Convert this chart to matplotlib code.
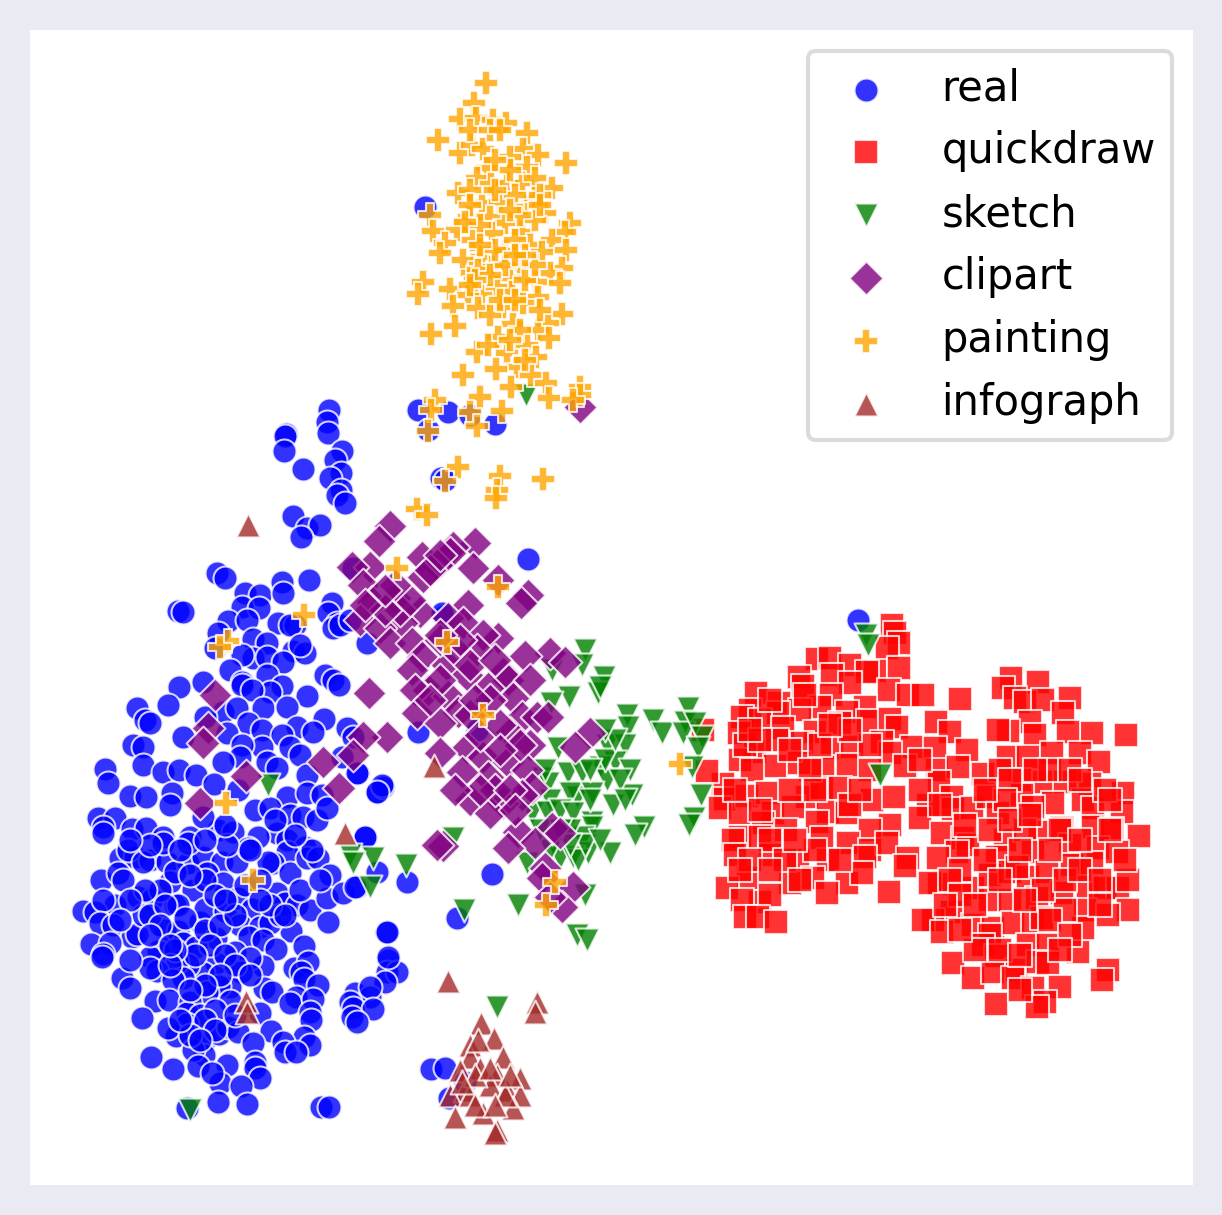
import numpy as np
import matplotlib
matplotlib.use("Agg")
import matplotlib.pyplot as plt

# embedding coordinates, one list per domain
real = [(217,573),(225,578),(245,593),(260,595),(282,582),(283,593),(309,580),(178,611),(183,612),(242,607),(259,608),(332,603),(328,613),(337,623),(333,628),(278,623),(295,625),(290,625),(228,621),(247,620),(218,633),(253,639),(267,643),(215,648),(293,651),(305,653),(300,645),(253,658),(242,655),(267,657),(283,662),(230,670),(267,675),(242,682),(242,685),(282,686),(270,692),(252,690),(325,675),(333,680),(339,685),(203,682),(179,687),(168,705),(307,696),(137,708),(145,720),(150,723),(223,712),(263,708),(287,707),(237,708),(205,717),(248,723),(262,730),(297,727),(324,719),(313,732),(347,728),(353,737),(183,737),(227,733),(282,735),(290,747),(262,747),(242,745),(133,745),(143,747),(300,755),(240,757),(223,762),(267,762),(277,768),(143,765),(163,772),(179,770),(196,775),(105,769),(108,783),(214,784),(307,775),(342,757),(358,773),(130,796),(146,797),(172,793),(170,805),(238,790),(287,797),(307,793),(322,795),(377,792),(383,787),(98,818),(115,818),(103,827),(103,833),(132,829),(146,828),(163,837),(190,837),(218,830),(233,832),(255,810),(270,808),(290,815),(303,817),(317,820),(327,808),(277,833),(258,837),(287,840),(305,847),(365,837),(203,817),
        (120,858),(135,857),(150,860),(167,862),(188,863),(203,857),(222,862),(237,862),(248,848),(163,843),(188,843),(227,845),(287,852),(273,863),(268,862),(290,873),(307,858),(318,858),(330,875),(101,880),(118,873),(123,880),(138,897),(152,899),(170,882),(193,890),(207,873),(223,883),(175,905),(178,905),(115,905),(83,911),(95,912),(103,900),(100,923),(113,925),(132,937),(137,934),(91,944),(110,943),(103,954),(102,957),(143,915),(165,930),(178,931),(200,922),(205,909),(225,911),(238,898),(252,909),(277,893),(285,903),(297,905),(310,910),(327,898),(343,893),(357,887),(328,922),(240,925),(260,927),(291,931),(270,923),(249,937),(263,940),(276,949),(304,946),(216,938),(183,943),(196,947),(158,951),(150,957),(235,952),(216,963),(203,973),(188,965),(177,962),(157,971),(150,968),(263,966),(250,958),(241,972),(183,978),(173,980),(122,978),(130,988),(294,968),(308,962),(301,972),(304,979),(318,985),(386,932),(388,960),(387,972),(397,972),(385,982),(264,988),(272,992),(230,987),(219,986),(207,992),(155,1001),(169,1000),(190,1002),(230,1001),(296,997),(290,1003),(313,999),(310,1012),(311,1020),(355,993),(370,997),(370,987),(350,1002),(353,1008),(373,1009),(352,1017),(357,1022),(142,1018),(187,1013),(200,1015),(260,1013),(187,1024),(176,1036),(168,1028),(205,1040),(219,1034),(228,1027),(238,1032),(271,1031),(253,1043),(304,1037),(283,1042),(310,1045),(285,1052),(296,1052),(204,1055),(193,1050),(151,1057),(173,1069),(198,1066),(227,1065),(255,1062),(255,1068),(260,1078),(220,1083),(212,1073),(241,1086),(218,1102),(247,1104),(187,1108),(321,1107),(329,1107),
        (128,850),(143,862),(175,872),(205,880),(215,895),(190,875),(160,890),(145,890),(130,900),(150,915),(165,905),(185,918),(205,930),(220,925),(235,915),(225,900),(245,885),(260,880),(210,945),(225,955),(195,955),(175,950),(170,965),(235,965),(250,975),(220,975),(205,985),(190,990),(215,1010),(235,1015),(205,1020),(215,1030),(190,1035),(200,1040),(180,1020),(280,915),(270,905),(300,890),(320,880),(312,850),(295,835),(275,820),(250,850),(225,825),(205,840),(180,850),(150,845),(130,840),(260,900),(120,920),(130,960),(160,925),(150,935),(170,945),(285,915),
        (329,410),(327,422),(328,433),(286,434),(285,436),(284,451),(342,451),(335,460),(341,473),(303,469),(330,478),(341,490),(337,495),(345,503),(293,516),(307,528),(320,525),(301,537),(425,207),(418,410),(448,412),(428,430),(495,424),(470,415),(441,478),(445,480),(528,559),(353,568),(444,616),(858,620),(367,643),(340,625),(350,620),(442,613),(477,730),(418,732),(357,773),(382,785),(377,792),(365,837),(377,872),(407,882),(355,887),(492,874),(457,918),(387,932),(388,957),(431,1069),(445,1068),(449,1098),(465,1082)]

quickdraw = [(892,625),(895,633),(899,643),(887,648),(817,659),(830,658),(850,665),(875,671),(899,668),(867,672),(799,677),(832,675),(850,683),(803,686),(889,690),(908,695),(923,695),(960,699),(756,693),(779,703),(831,695),(820,707),(800,710),(865,707),(750,710),(778,713),(847,712),(742,717),(840,723),(868,721),(890,719),(760,720),(936,722),(950,732),(783,728),(815,732),(739,733),(897,727),(882,742),(912,747),(935,748),(967,750),(890,753),(832,748),(852,747),(755,752),(777,740),(802,743),(740,760),(775,766),(799,763),(848,765),(870,770),(905,766),(937,770),(958,767),(983,774),(752,770),(823,767),(939,782),(723,784),(707,771),(703,730),(725,799),(747,796),(767,793),(807,797),(822,788),(840,788),(872,800),(894,797),(952,797),(928,805),(953,809),(972,808),(988,797),(773,813),(828,812),(847,813),(720,808),(740,813),(793,807),(920,818),(890,825),(870,830),(998,813),(942,833),(763,823),(786,830),(817,822),(740,837),(733,840),(760,837),(822,838),(848,843),(870,850),(887,843),(963,838),(968,845),(1005,840),(735,855),(770,855),(798,860),(828,860),(908,858),(905,866),(957,852),(938,858),(997,857),(865,857),(748,878),(760,902),(790,883),(813,878),(847,883),(862,873),(727,888),(827,893),(742,900),(770,895),(745,917),(758,917),(776,922),(889,892),(939,884),(973,888),(930,883),(990,875),(952,912),(933,920),(923,920),(942,932),(990,900),(1010,900),(973,925),(1010,872),(1028,877),(1037,898),(993,928),(1013,923),(1033,922),(1042,918),(990,935),(1028,945),(1048,945),(983,945),(996,956),(953,963),(973,978),(993,972),(1017,970),(1038,962),(1048,963),(1013,978),(1033,988),(1060,987),(1045,1002),(996,1004),(1037,1007),(1078,952),(1108,970),(1102,980),(1011,678),(1038,682),(1003,688),(1015,698),(1025,702),(1070,698),(1043,700),(1063,713),(1030,722),(1008,731),(998,730),(1035,735),(1092,733),(1126,735),(1068,732),(1008,757),(1028,757),(1052,753),(1080,753),(1099,762),(1043,782),(1065,782),(1090,784),(1020,780),(1022,795),(1123,793),(1053,803),(1083,800),(1122,812),(1033,807),(1093,808),(1040,832),(1062,828),(1093,827),(1112,829),(1139,836),(1025,830),(1070,845),(1098,848),(1117,852),(1033,852),(1017,867),(1072,865),(1092,863),(1047,872),(1062,893),(1088,887),(1105,888),(1118,888),(1128,880),(1085,910),(1128,910),(1108,915),(1083,928),(1065,910),(1043,890),
             (745,745),(760,740),(790,750),(810,770),(815,790),(790,790),(760,810),(770,840),(785,860),(800,880),(815,850),(840,860),(850,805),(860,790),(870,745),(850,730),(820,745),(805,695),(830,725),(770,700),(750,730),(735,790),(750,860),(740,870),(770,870),(795,840),(920,790),(920,760),(1000,770),(1010,780),(1050,770),(1070,770),(1080,780),(1105,790),(1110,800),(1060,830),(1080,840),(1005,800),(990,830),(985,860),(960,870),(950,880),(960,895),(975,905),(1000,880),(1020,850),(1050,850),(1065,880),(1080,870),(1100,880),(1025,900),(1050,920),(1070,935),(1060,950),(1000,950),(1020,955),(975,950),(960,930),(945,905),(1020,990),(1110,830),(1125,860),(1100,905),(1035,770),(985,790),(940,805),(965,825),(1010,820),(1030,815)]

sketch = [(585,650),(582,665),(552,670),(604,677),(598,693),(600,687),(569,697),(551,703),(627,715),(628,727),(653,720),(662,733),(688,708),(685,722),(683,733),(695,723),(702,737),(698,748),(558,748),(607,745),(625,745),(615,762),(600,767),(630,770),(568,773),(582,772),(607,780),(543,778),(548,783),(692,767),(701,795),(694,818),(689,825),(632,795),(613,805),(577,797),(570,793),(592,793),(550,800),(532,813),(547,812),(560,810),(573,813),(592,822),(592,827),(644,827),(635,835),(583,837),(588,853),(610,853),(560,858),(527,863),(573,857),(578,860),(550,850),(585,895),(518,905),(577,935),(587,940),(464,910),(453,838),(406,865),(373,858),(350,855),(353,863),(370,887),(866,635),(868,645),(880,775),(526,395),(268,785),(190,1110),(497,1007),(545,770),
          (605,760),(620,780),(590,770),(570,830),(585,845),(600,840),(570,845),(540,830),(560,830),(615,740),(605,730),(625,800),(590,800)]

clipart = [(390,526),(379,541),(475,543),(453,547),(450,553),(473,568),(422,557),(370,567),(437,565),(352,567),(498,580),(423,577),(363,585),(528,595),(521,603),(468,605),(395,598),(372,602),(420,612),(402,623),(448,618),(463,623),(360,620),(380,628),(390,643),(498,638),(483,635),(412,643),(477,650),(550,653),(525,656),(422,657),(565,662),(447,665),(412,670),(467,675),(503,673),(508,680),(488,688),(428,690),(415,690),(513,698),(448,696),(369,693),(458,712),(417,713),(522,717),(537,717),(548,717),(440,723),(510,733),(530,745),(590,733),(575,747),(387,737),(363,737),(467,748),(440,753),(353,755),(483,757),(508,762),(527,770),(488,777),(462,772),(532,788),(522,795),(503,803),(470,800),(490,813),(552,828),(518,832),(535,843),(560,833),(508,848),(443,846),(437,845),(545,868),(542,878),(573,887),(562,907),(550,897),(215,695),(208,728),(203,743),(323,762),(339,788),(246,776),(200,803),(580,407),
           (400,610),(385,610),(410,600),(440,640),(455,650),(470,665),(495,660),(530,680),(490,700),(470,715),(480,735),(500,725),(520,745),(495,790),(480,790),(510,790),(515,810),(440,680),(430,700),(395,585),(430,570),(440,555),(365,605),(385,590),(475,700),(500,750),(460,640),(440,635),(455,790)]

painting = [(486,83),(474,103),(460,119),(476,118),(493,120),(506,123),(527,133),(438,140),(460,153),(472,145),(483,149),(523,149),(538,155),(510,157),(566,163),(487,168),(527,167),(477,178),(491,184),(507,183),(522,183),(535,178),(552,188),(458,193),(482,203),(500,202),(525,207),(535,198),(469,217),(545,213),(430,215),(490,217),(433,231),(457,230),(505,223),(492,233),(522,232),(535,220),(570,223),(565,232),(473,240),(552,240),(530,245),(445,243),(440,253),(505,251),(482,257),(542,252),(566,250),(463,260),(492,267),(520,267),(562,268),(472,273),(478,270),(510,278),(550,273),(423,282),(536,282),(450,289),(482,293),(497,287),(512,292),(560,283),(418,294),(468,295),(538,297),(453,306),(478,308),(503,307),(523,303),(490,315),(562,314),(455,326),(513,324),(431,334),(548,323),(538,330),(498,337),(549,338),(527,345),(477,352),(488,345),(507,353),(536,357),(517,367),(496,369),(463,375),(531,375),(546,383),(511,387),(580,387),(580,395),(549,398),(480,397),(435,400),(502,411),(573,400),(431,410),(470,412),(477,426),(428,431),
            (515,195),(470,190),(495,190),(480,225),(515,240),(505,265),(525,280),(490,275),(500,300),(475,280),(515,300),(520,215),(540,195),(510,210),(495,250),(535,265),(480,245),(520,330),
            (470,130),(490,130),(500,130),(510,170),(495,160),(470,205),(540,205),(465,222),(525,255),(515,255),(470,285),(540,310),(510,340),(525,360),
            (458,467),(500,476),(543,479),(445,481),(497,490),(496,498),(417,509),(427,515),(397,568),(498,587),(304,615),(228,641),(220,647),(447,642),(483,715),(680,764),(226,803),(253,880),(555,882),(546,905)]

infograph = [(248,525),(434,766),(345,833),(448,981),(537,1002),(535,1012),(246,1001),(247,1012),(481,1023),(470,1045),(494,1038),(503,1057),(470,1057),(460,1070),(480,1068),(497,1075),(520,1078),(465,1090),(490,1085),(507,1090),(450,1095),(470,1095),(520,1095),(483,1113),(513,1108),(455,1117),(497,1130),(495,1133),(505,1095),(475,1075),
             (478,1040),(462,1082),(490,1068),(510,1075),(475,1105),(495,1105)]

domains = ["real", "quickdraw", "sketch", "clipart", "painting", "infograph"]
points = [real, quickdraw, sketch, clipart, painting, infograph]
colors = ["blue", "red", "green", "purple", "orange", "brown"]
markers = ["o", "s", "v", "D", "P", "^"]

fig = plt.figure(figsize=(1222/300, 1215/300), dpi=300, facecolor="#eaeaf2")
ax = fig.add_axes([30/1222, 1-1185/1215, (1193-30)/1222, (1185-30)/1215])
for name, pts, c, m in zip(domains, points, colors, markers):
    xy = np.array(pts)
    ax.scatter(xy[:, 0], xy[:, 1], s=33, c=c, marker=m, alpha=0.8,
               edgecolors="white", linewidths=0.5, label=name)

ax.set_xlim(30, 1193)
ax.set_ylim(1185, 30)
ax.set_xticks([])
ax.set_yticks([])
for s in ax.spines.values():
    s.set_visible(False)

ax.legend(loc="upper right", fontsize=10, frameon=True, framealpha=0.8,
          edgecolor="lightgray", labelspacing=0.5)
fig.savefig("out.png", dpi=300, facecolor=fig.get_facecolor())
